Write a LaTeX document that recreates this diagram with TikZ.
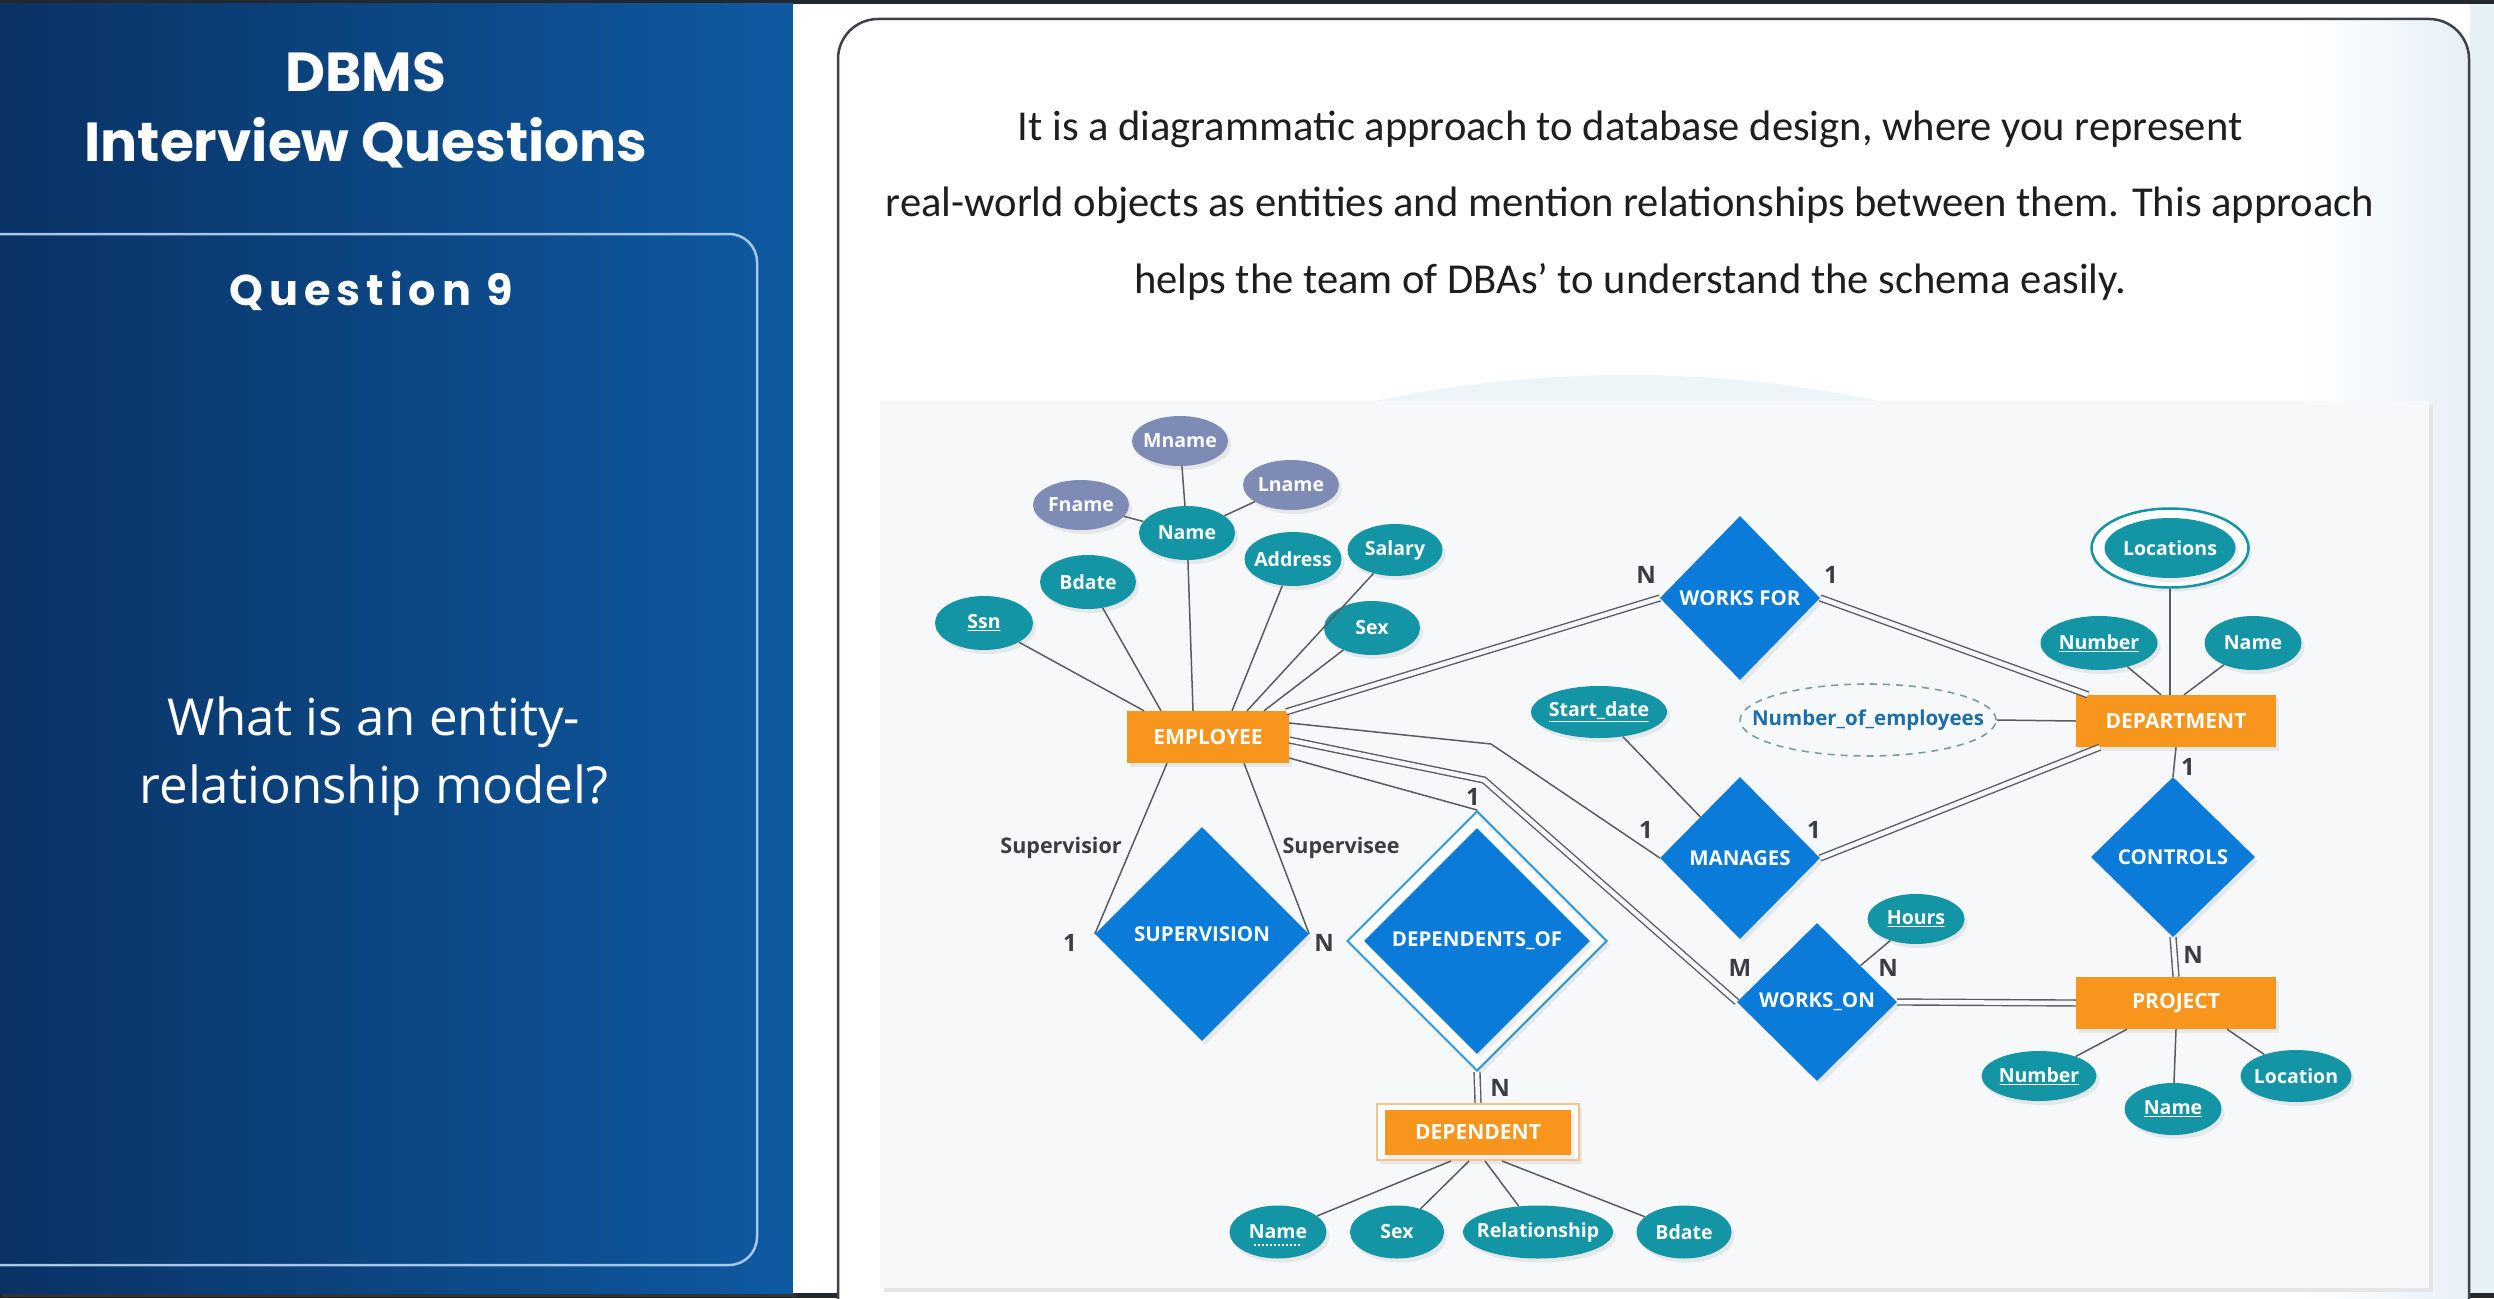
\documentclass[tikz,border=0pt]{standalone}
\usepackage{fontspec}
\usetikzlibrary{shapes.geometric,calc,shadows}
\setmainfont{Open Sans}
\newfontfamily\titlefont{Poppins}
\newfontfamily\qfont[LetterSpace=14]{Poppins}
\newfontfamily\bodyfont{Carlito}

\definecolor{frame}{HTML}{23272E}
\definecolor{navyL}{HTML}{0A3264}
\definecolor{navyR}{HTML}{0E5AA2}
\definecolor{boxline}{HTML}{A9C7E7}
\definecolor{cardline}{HTML}{3D424A}
\definecolor{panel}{HTML}{F7F8FA}
\definecolor{tint}{HTML}{E6F0F7}
\definecolor{attr}{HTML}{1395A6}
\definecolor{comp}{HTML}{7D8BB5}
\definecolor{rel}{HTML}{0A7BD8}
\definecolor{relline}{HTML}{2E9BD8}
\definecolor{ent}{HTML}{F7951D}
\definecolor{entline}{HTML}{F2C48C}
\definecolor{wire}{HTML}{5A5C60}
\definecolor{lab}{HTML}{3A3D42}
\definecolor{derived}{HTML}{1D6FA8}
\definecolor{derivedline}{HTML}{7C9CA3}
\definecolor{bodytext}{HTML}{1E1E1E}

\tikzset{
  shade/.style={drop shadow={opacity=0.14, shadow xshift=3pt, shadow yshift=-4pt}},
  nodefont/.style={font=\fontsize{19.5}{20}\selectfont\bfseries},
  attrib/.style={ellipse, fill=attr, text=white, nodefont, inner xsep=-14pt, inner ysep=0pt, shade},
  part/.style={attrib, fill=comp},
  entity/.style={rectangle, fill=ent, text=white, font=\fontsize{21}{22}\selectfont\bfseries, inner sep=0pt, shade},
  relation/.style={diamond, aspect=1, fill=rel, text=white, font=\fontsize{20.5}{21}\selectfont\bfseries, inner sep=0pt, shade},
  wire/.style={draw=wire, line width=1.5pt},
  dbl/.style={draw=wire, line width=1.4pt, double=panel, double distance=4.5pt},
  card/.style={font=\fontsize{24}{24}\selectfont\bfseries, text=lab, inner sep=0pt},
  role/.style={font=\fontsize{21.5}{22}\selectfont\bfseries, text=lab, inner sep=0pt},
}

\begin{document}
\begin{tikzpicture}[x=1pt, y=-1pt]
\useasboundingbox (0,0) rectangle (2494,1298);

% ---------- page background ----------
\fill[frame] (0,0) rectangle (2494,1298);
\shade[left color=navyL, right color=navyR] (0,4) rectangle (793,1293);
\fill[white] (793,4) rectangle (2494,1293);
\fill[tint] (2470,4) rectangle (2494,1293);

% left panel frame
\draw[boxline, line width=2.5pt, rounded corners=28pt] (-20,234) -- (757,234) -- (757,1265) -- (-20,1265);

% titles
\node (t1) at (366,72) {\titlefont\fontsize{55}{55}\selectfont\bfseries\color{white}DBMS};
\node (t2) at (366,143) {\titlefont\fontsize{55}{55}\selectfont\bfseries\color{white}Interview Questions};
\node (q9) at (371,291) {\qfont\fontsize{43}{43}\selectfont\bfseries\color{white}Question 9};
\node (qa) at (374,722) {\fontsize{51}{51}\selectfont\color{white}What is an entity-};
\node (qb) at (374,790) {\fontsize{51}{51}\selectfont\color{white}relationship model?};

% ---------- answer card ----------
\begin{scope}
  \clip[rounded corners=40pt] (838,1340) -- (838,19) -- (2469,19) -- (2469,1340) -- cycle;
  \fill[white] (838,19) rectangle (2469,1298);
  \shade[left color=white, right color=tint] (2300,19) rectangle (2469,1298);
\end{scope}
\begin{scope}
  \clip (880,300) rectangle (2429,401);
  \fill[tint!70] (1627,1590) circle (1215);
\end{scope}
\draw[cardline, line width=2.5pt, rounded corners=40pt] (838,1340) -- (838,19) -- (2469,19) -- (2469,1340);

\node[text=bodytext] (p1) at (1630,129) {\bodyfont\fontsize{42.6}{43}\selectfont It is a diagrammatic approach to database design, where you represent};
\node[text=bodytext] (p2) at (1630,205) {\bodyfont\fontsize{42.6}{43}\selectfont real-world objects as entities and mention relationships between them. This approach};
\node[text=bodytext] (p3) at (1630,282) {\bodyfont\fontsize{42.6}{43}\selectfont helps the team of DBAs’ to understand the schema easily.};

% diagram panel
\fill[black!10] (884,405) rectangle (2433,1292);
\fill[panel] (880,401) rectangle (2429,1288);

% ---------- ER diagram: nodes ----------
% entities
\node[entity, minimum width=162, minimum height=52] (emp) at (1208,737) {EMPLOYEE};
\node[entity, minimum width=200, minimum height=52] (dept) at (2176,721) {DEPARTMENT};
\node[entity, minimum width=200, minimum height=52] (proj) at (2176,1003) {PROJECT};
\node[rectangle, draw=entline, line width=2pt, fill=white, minimum width=202, minimum height=56, inner sep=0pt, shade] (depo) at (1478,1132) {};
\node[entity, minimum width=186, minimum height=45, drop shadow={opacity=0}] (dep) at (1478,1132) {DEPENDENT};

% relationships
\node[relation, minimum width=160, minimum height=164] (wf) at (1740,598) {WORKS FOR};
\node[relation, minimum width=160, minimum height=162] (man) at (1740,858) {MANAGES};
\node[relation, minimum width=164, minimum height=160] (ctl) at (2173,857) {CONTROLS};
\node[relation, minimum width=160, minimum height=158] (won) at (1817,1002) {WORKS\_ON};
\node[relation, minimum width=214, minimum height=214] (sup) at (1202,934) {SUPERVISION};
\node[diamond, aspect=1, draw=relline, line width=2pt, fill=white, minimum width=260, minimum height=260, inner sep=0pt, shade] (depofo) at (1477,941) {};
\node[relation, minimum width=226, minimum height=226, drop shadow={opacity=0}] (depof) at (1477,941) {DEPENDENTS\_OF};

% employee attributes
\node[attrib, minimum width=98, minimum height=54] (ssn) at (984,623) {\underline{Ssn}};
\node[attrib, minimum width=96, minimum height=54] (bdate) at (1088,582) {Bdate};
\node[attrib, minimum width=96, minimum height=54] (name) at (1187,533) {Name};
\node[part, minimum width=96, minimum height=50] (fname) at (1081,505) {Fname};
\node[part, minimum width=96, minimum height=50] (mname) at (1180,441) {Mname};
\node[part, minimum width=96, minimum height=50] (lname) at (1291,485) {Lname};
\node[attrib, minimum width=97, minimum height=54] (addr) at (1293,559) {Address};
\node[attrib, minimum width=95, minimum height=52] (sal) at (1395,550) {Salary};
\node[attrib, minimum width=96, minimum height=54] (sex) at (1372,628) {Sex};

% relationship attributes
\node[attrib, minimum width=136, minimum height=52] (sd) at (1599,712) {\underline{Start\_date}};
\node[attrib, minimum width=97, minimum height=50] (hrs) at (1916,919) {\underline{Hours}};

% department attributes
\node[ellipse, draw=derivedline, dashed, dash pattern=on 7pt off 6pt, line width=1.6pt, text=derived, font=\fontsize{20.5}{21}\selectfont\bfseries, minimum width=256, minimum height=72, inner xsep=-40pt, inner ysep=0pt] (noe) at (1868,720) {Number\_of\_employees};
\node[ellipse, draw=attr, line width=2.5pt, fill=white, minimum width=157, minimum height=79, inner sep=0pt, shade] (loco) at (2170,548) {};
\node[attrib, minimum width=131, minimum height=60, drop shadow={opacity=0}] (loc) at (2170,548) {Locations};
\node[attrib, minimum width=117, minimum height=54] (dnum) at (2099,643) {\underline{Number}};
\node[attrib, minimum width=97, minimum height=54] (dname) at (2253,643) {Name};

% project attributes
\node[attrib, minimum width=115, minimum height=50] (pnum) at (2039,1076) {\underline{Number}};
\node[attrib, minimum width=97, minimum height=52] (pname) at (2173,1109) {\underline{Name}};
\node[attrib, minimum width=111, minimum height=52] (ploc) at (2296,1076) {Location};

% dependent attributes
\node[attrib, minimum width=97, minimum height=53] (dpname) at (1278,1232) {Name};
\node[attrib, minimum width=94, minimum height=53] (dpsex) at (1397,1232) {Sex};
\node[attrib, minimum width=150, minimum height=53] (dprel) at (1538,1232) {Relationship};
\node[attrib, minimum width=95, minimum height=53] (dpbdate) at (1684,1232) {Bdate};
\draw[white, line width=1.2pt, dash pattern=on 2pt off 2pt] ($(dpname.center)+(-24,13)$) -- ($(dpname.center)+(24,13)$);

% bend points of the employee connectors
\coordinate (bman) at (1491,744);
\coordinate (bwon) at (1484,780);

% ---------- connectors ----------
% attribute lines of EMPLOYEE
\draw[wire] (ssn) -- ($(emp.north)+(-64,0)$);
\draw[wire] (bdate) -- ($(emp.north)+(-47,0)$);
\draw[wire] (name) -- ($(emp.north)+(-15,0)$);
\draw[wire] (addr) -- ($(emp.north)+(24,0)$);
\draw[wire] (sal) -- ($(emp.north)+(39,0)$);
\draw[wire] (sex) -- ($(emp.north)+(56,0)$);
\draw[wire] (fname) -- (name);
\draw[wire] (mname) -- (name);
\draw[wire] (lname) -- (name);

% EMPLOYEE relationships
\draw[dbl] ($(emp.north east)+(-3,1)$) -- (wf.west);
\draw[dbl] (wf.east) -- ($(dept.north west)+(12,0)$);
\draw[wire] ($(emp.east)+(0,-14)$) -- (bman) -- (man.west);
\draw[dbl] ($(emp.east)+(0,3)$) -- (bwon) -- (won.west);
\draw[wire] ($(emp.east)+(0,21)$) -- (depofo.north);
\draw[wire] ($(emp.south)+(-41,0)$) -- (sup.west);
\draw[wire] ($(emp.south)+(36,0)$) -- (sup.east);

% MANAGES, CONTROLS, WORKS_ON
\draw[wire] (sd) -- (man);
\draw[dbl] (man.east) -- ($(dept.south west)+(24,0)$);
\draw[wire] (dept.south) -- (ctl.north);
\draw[dbl] (ctl.south) -- (proj.north);
\draw[dbl] (won.east) -- (proj.west);
\draw[wire] (hrs) -- (won);

% DEPARTMENT attributes
\draw[wire] (loco.south) -- (loco.south |- dept.north);
\draw[wire] (dnum) -- ($(dept.north)+(-15,0)$);
\draw[wire] (dname) -- ($(dept.north)+(8,0)$);
\draw[wire] (noe.east) -- (dept.west);

% PROJECT attributes
\draw[wire] ($(proj.south)+(-49,0)$) -- (pnum);
\draw[wire] (proj.south) -- (pname);
\draw[wire] ($(proj.south)+(51,0)$) -- (ploc);

% DEPENDENT
\draw[dbl] (depofo.south) -- (depo.north);
\draw[wire] ($(depo.south)+(-27,0)$) -- (dpname);
\draw[wire] ($(depo.south)+(-9,0)$) -- (dpsex);
\draw[wire] ($(depo.south)+(7,0)$) -- (dprel);
\draw[wire] ($(depo.south)+(24,0)$) -- (dpbdate);

% ---------- cardinality and role labels ----------
\node[card] (cwf1) at (1646,575) {N};
\node[card] (cwf2) at (1831,575) {1};
\node[card] (cman1) at (1646,830) {1};
\node[card] (cman2) at (1814,830) {1};
\node[card] (cdo1) at (1473,797) {1};
\node[card] (cdo2) at (1500,1088) {N};
\node[card] (cwo1) at (1740,968) {M};
\node[card] (cwo2) at (1888,968) {N};
\node[card] (cct1) at (2188,767) {1};
\node[card] (cct2) at (2193,955) {N};
\node[card] (csu1) at (1070,943) {1};
\node[card] (csu2) at (1324,943) {N};
\node[role] (rsup) at (1061,848) {Supervisior};
\node[role] (rsee) at (1341,848) {Supervisee};
\end{tikzpicture}
\end{document}
